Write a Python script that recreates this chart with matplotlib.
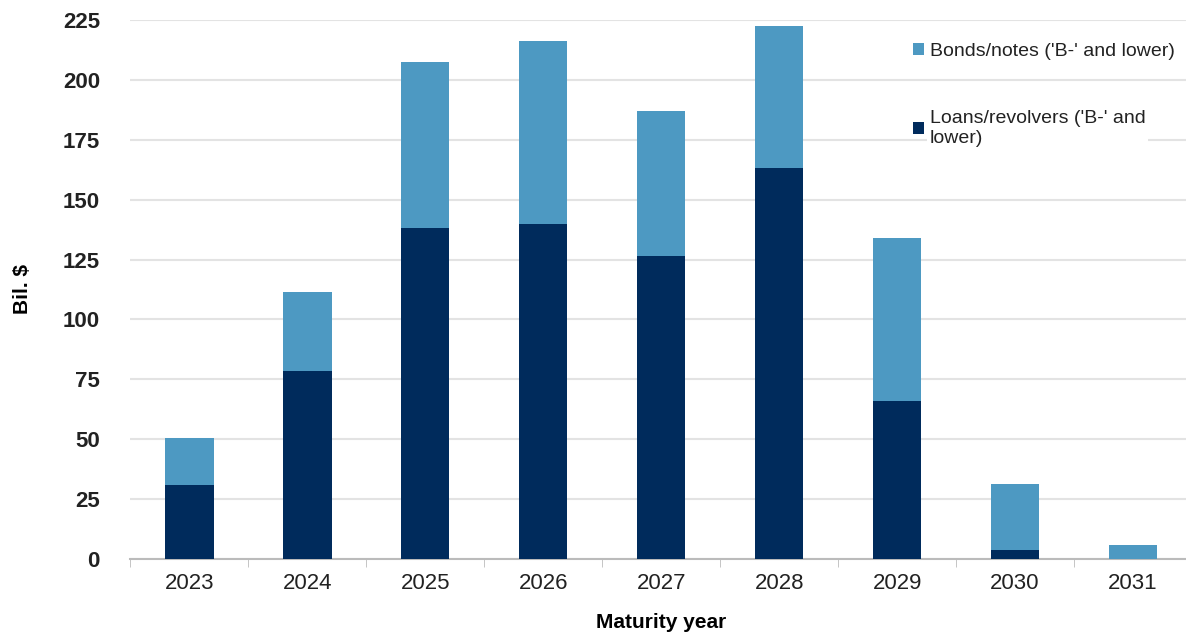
import matplotlib.pyplot as plt
import numpy as np

plt.rcParams["font.family"] = ["Liberation Sans", "DejaVu Sans"]

years = ["2023", "2024", "2025", "2026", "2027", "2028", "2029", "2030", "2031"]
loans = [31, 78.5, 138, 140, 126.5, 163, 66, 4, 0]
bonds = [19.5, 33, 69.5, 76, 60.5, 59.5, 68, 27.5, 6]

dark = "#002B5C"
light = "#4D99C2"

fig = plt.figure(figsize=(11.86, 6.39), dpi=100)
ax = fig.add_axes([0.110, 0.125, 0.895, 0.844])

x = np.arange(len(years))
ax.bar(x, loans, width=0.41, color=dark, label="Loans/revolvers ('B-' and\nlower)", zorder=3)
ax.bar(x, bonds, width=0.41, bottom=loans, color=light, label="Bonds/notes ('B-' and lower)", zorder=3)

ax.set_xlim(-0.5, len(years) - 0.5)
ax.set_ylim(0, 225)
ax.set_yticks(range(0, 226, 25))
ax.set_xticks(x)
ax.set_xticklabels(years, fontsize=16, color="#222222")
ax.set_xticks(np.arange(-0.5, len(years), 1), minor=True)
ax.tick_params(axis="x", which="major", length=0, pad=10)
ax.tick_params(axis="x", which="minor", length=6, color="#BBBBBB", direction="out")
ax.tick_params(axis="y", length=0, pad=22, labelsize=16)
for t in ax.get_yticklabels():
    t.set_fontweight("bold")
    t.set_color("#222222")

ax.grid(axis="y", color="#E3E3E3", linewidth=1.5, zorder=0)
for s in ["top", "right", "left"]:
    ax.spines[s].set_visible(False)
ax.spines["bottom"].set_color("#BBBBBB")
ax.spines["bottom"].set_linewidth(1.5)

ax.set_xlabel("Maturity year", fontsize=15, fontweight="bold", labelpad=14)
ax.set_ylabel("Bil. $", fontsize=15, fontweight="bold", labelpad=22)

handles, labels = ax.get_legend_handles_labels()
leg = ax.legend(handles[::-1], labels[::-1], loc="upper right", bbox_to_anchor=(1.0, 0.99),
                frameon=False, fontsize=14, handlelength=0.55, handleheight=0.55,
                handletextpad=0.3, labelspacing=2.6, alignment="left")
for t in leg.get_texts():
    t.set_bbox(dict(facecolor="white", edgecolor="none", pad=2))
    t.set_color("#222222")

fig.savefig("out.png", dpi=100)
